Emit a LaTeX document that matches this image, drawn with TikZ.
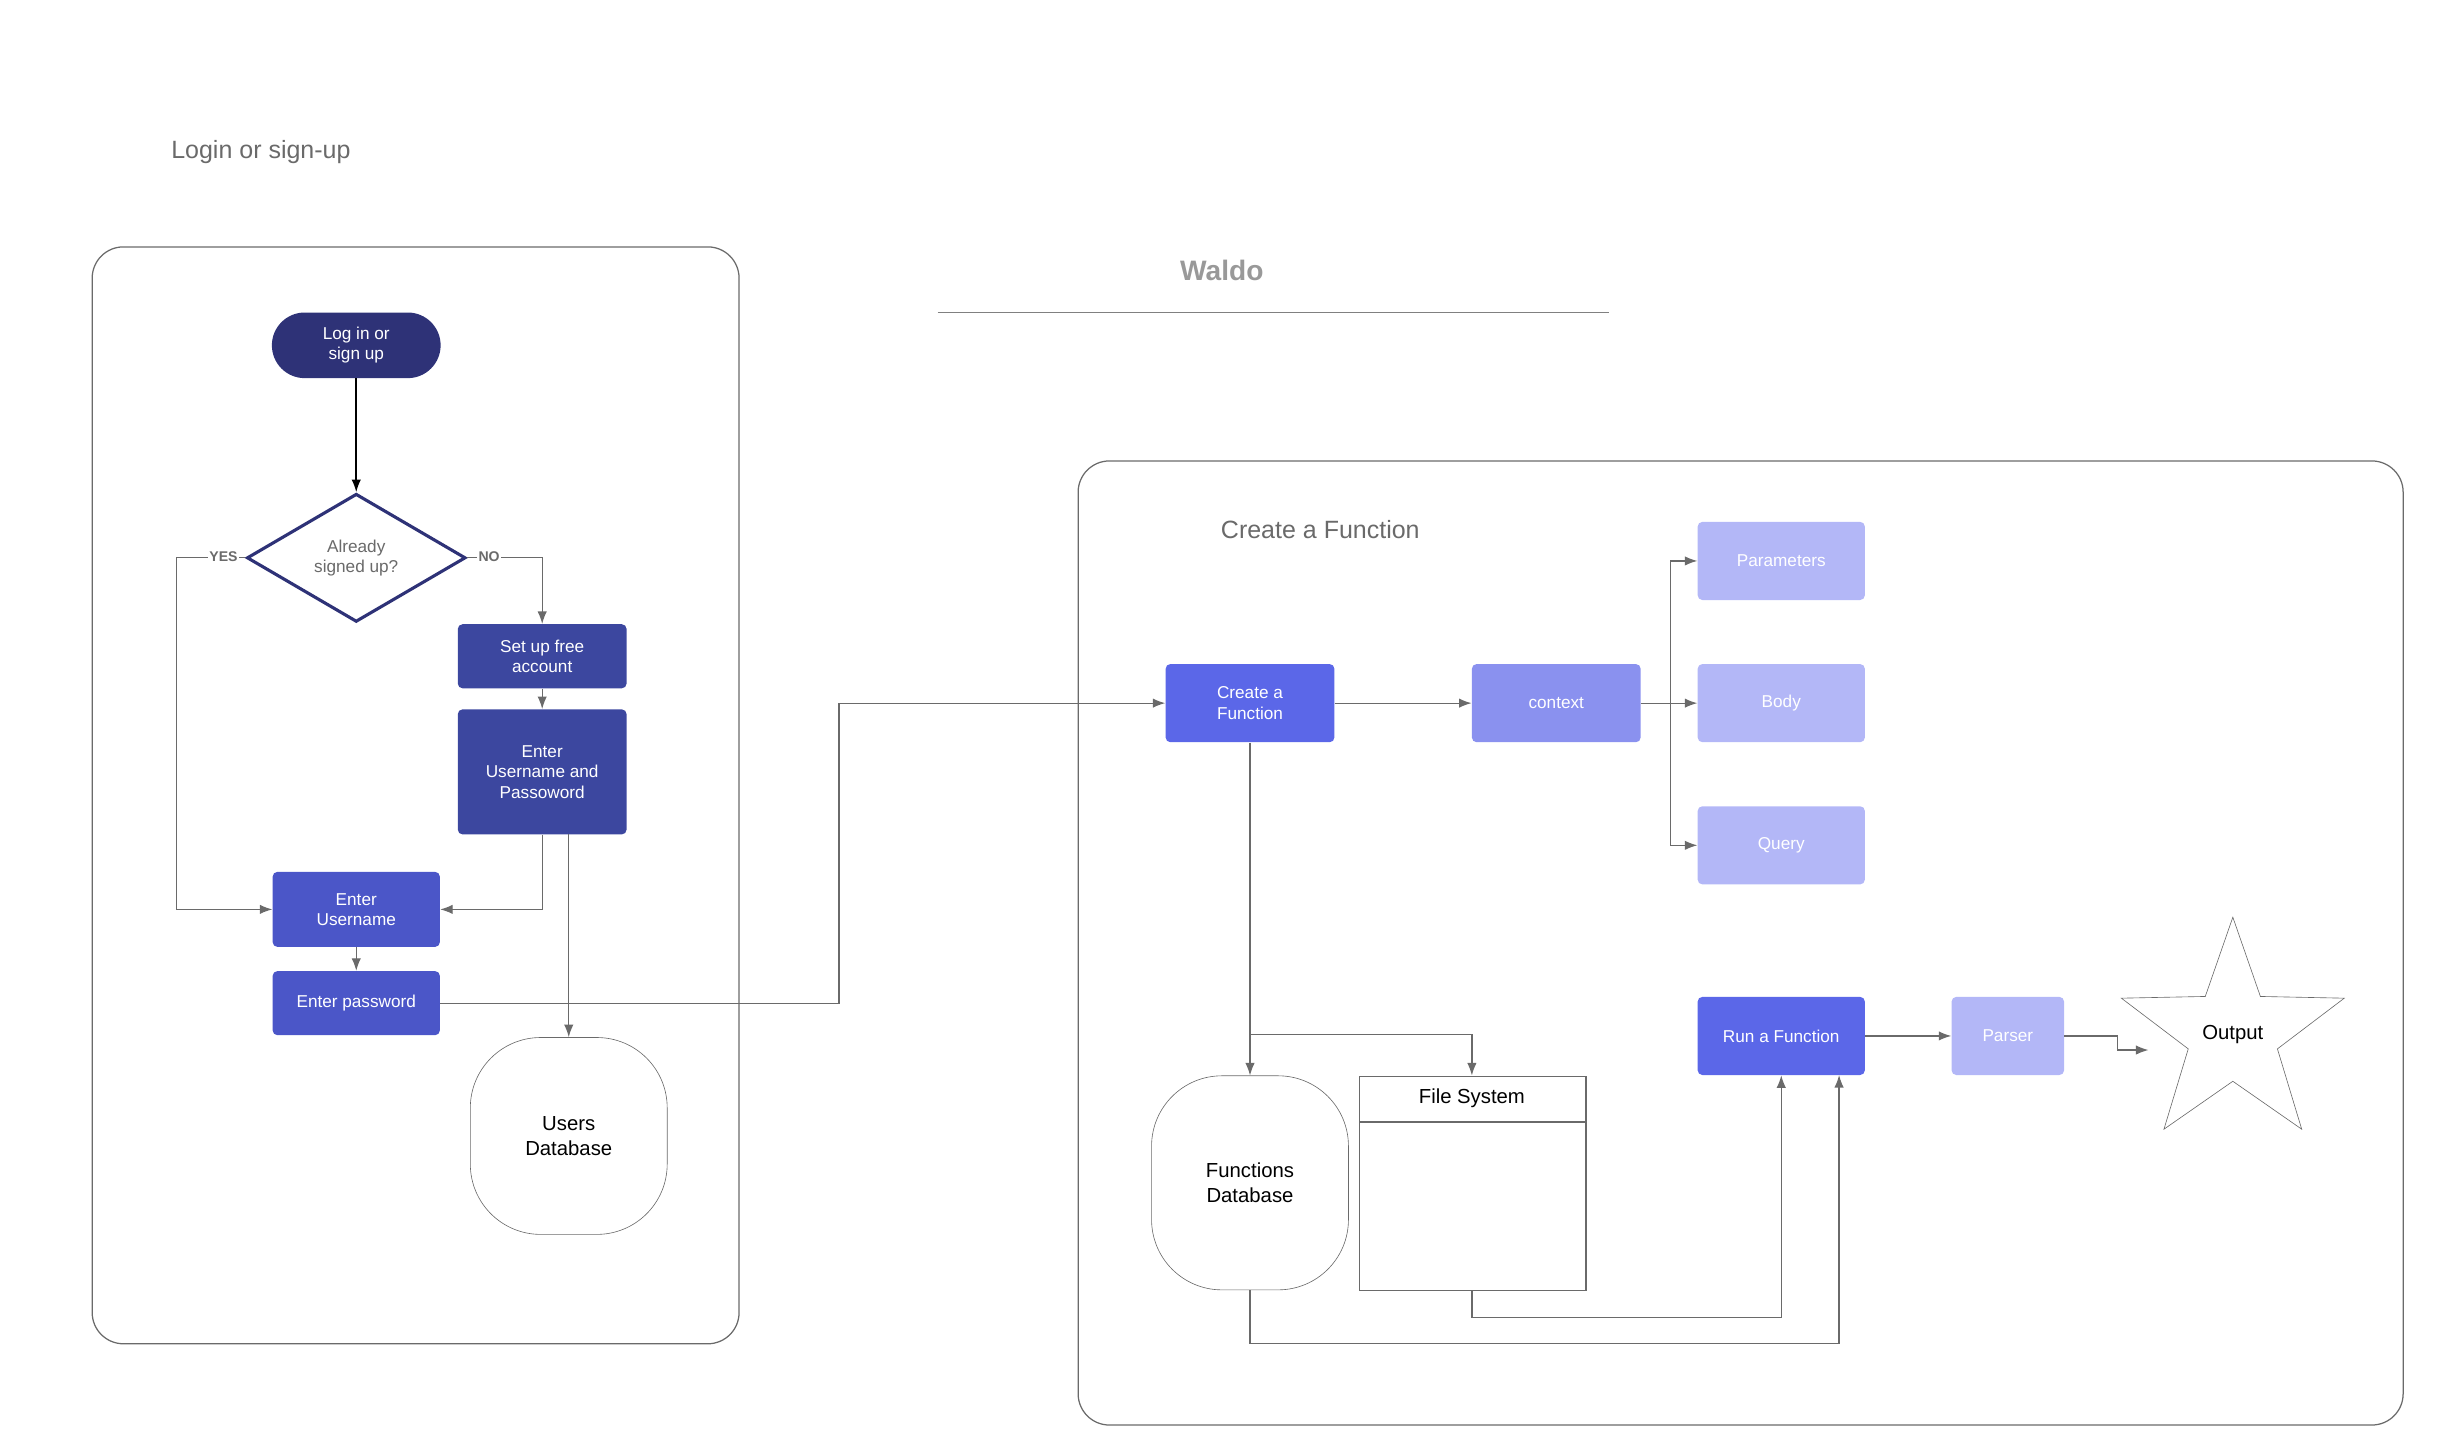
\documentclass[tikz,border=0pt]{standalone}
\usepackage{fontspec}
\setmainfont{Liberation Sans}
\usetikzlibrary{shapes.geometric,arrows.meta}
\definecolor{navy}{HTML}{2E3277}
\definecolor{dkb}{HTML}{3C479F}
\definecolor{mdb}{HTML}{4B56C8}
\definecolor{brb}{HTML}{5B67E8}
\definecolor{ctx}{HTML}{8A91EF}
\definecolor{lt}{HTML}{B3B7F7}
\definecolor{ln}{HTML}{6A6A6A}
\begin{document}
\begin{tikzpicture}[x=1pt,y=-1pt,
 box/.style={rectangle,rounded corners=3pt,text=white,align=center,font=\fontsize{11}{13}\selectfont,inner sep=2pt},
 arr/.style={draw=ln,line width=0.8pt,-{Latex[length=8pt,width=6pt]}},
 ln/.style={draw=ln,line width=0.8pt},
 lbl/.style={font=\fontsize{16}{18}\selectfont,text=ln}]
\useasboundingbox (0,0) rectangle (1568,921.6);
\node[lbl] (t1) at (167,97) {Login or sign-up};
\draw[ln,rounded corners=20pt] (59,158) rectangle (473,860);
\node[font=\bfseries\fontsize{18}{20}\selectfont,text=gray!80] (waldo) at (782,173) {Waldo};
\draw[ln,gray] (600,200) -- (1030,200);
\draw[ln,rounded corners=20pt] (690,295) rectangle (1538,912);
\node[lbl] (t2) at (845,339) {Create a Function};

\node[box,fill=navy,rounded corners=21pt,minimum width=108pt,minimum height=42pt] (start) at (228,221) {Log in or\\sign up};
\node[diamond,draw=navy,line width=2pt,fill=white,minimum width=140pt,minimum height=82pt,inner sep=0pt,align=center,font=\fontsize{11}{13}\selectfont,text=ln] (dia) at (228,357) {Already\\signed up?};
\node[box,fill=dkb,minimum width=108pt,minimum height=41pt] (setup) at (347,420) {Set up free\\account};
\node[box,fill=dkb,minimum width=108pt,minimum height=80pt] (eup) at (347,494) {Enter\\Username and\\Passoword};
\node[box,fill=mdb,minimum width=107pt,minimum height=48pt] (eu) at (228,582) {Enter\\Username};
\node[box,fill=mdb,minimum width=107pt,minimum height=41pt] (ep) at (228,642) {Enter password};
\node[draw=ln,rounded corners=45pt,minimum width=126pt,minimum height=126pt,align=center,font=\fontsize{13}{16}\selectfont] (udb) at (364,727) {Users\\Database};

\draw[line width=1pt,-{Latex[length=8pt,width=6pt]}] (start) -- (dia);
\draw[arr] (dia.west) -- (113,357) |- (eu.west);
\node[fill=white,inner sep=1pt,font=\bfseries\fontsize{9}{10}\selectfont,text=ln] (yes) at (143,356) {YES};
\draw[arr] (dia.east) -- (347,357) -- (setup.north);
\node[fill=white,inner sep=1pt,font=\bfseries\fontsize{9}{10}\selectfont,text=ln] (no) at (313,356) {NO};
\draw[arr] (setup) -- (eup);
\draw[arr] (eup.south) |- (eu.east);
\draw[arr] (364,534) -- (udb.north);
\draw[arr] (eu) -- (ep);

\node[box,fill=brb,minimum width=108pt,minimum height=50pt] (cf) at (800,450) {Create a\\Function};
\node[box,fill=ctx,minimum width=108pt,minimum height=50pt] (ctx) at (996,450) {context};
\node[box,fill=lt,minimum width=107pt,minimum height=50pt] (par) at (1140,359) {Parameters};
\node[box,fill=lt,minimum width=107pt,minimum height=50pt] (body) at (1140,450) {Body};
\node[box,fill=lt,minimum width=107pt,minimum height=50pt] (q) at (1140,541) {Query};
\draw[arr] (ep.east) -- (537,642) |- (cf.west);
\draw[arr] (cf) -- (ctx);
\draw[arr] (ctx.east) -- (body.west);
\draw[arr] (1069,450) |- (par.west);
\draw[arr] (1069,450) |- (q.west);

\node[draw=ln,rounded corners=45pt,minimum width=126pt,minimum height=137pt,align=center,font=\fontsize{13}{16}\selectfont] (fdb) at (800,757) {Functions\\Database};
\draw[ln] (870,689) rectangle (1015,826);
\draw[ln] (870,718) -- (1015,718);
\node[font=\fontsize{13}{16}\selectfont,minimum width=145pt,minimum height=29pt] (fs) at (942,703) {File System};
\draw[arr] (cf.south) -- (fdb.north);
\draw[arr] (800,662) -| (fs.north);

\node[box,fill=brb,minimum width=107pt,minimum height=50pt] (run) at (1140,663) {Run a Function};
\node[box,fill=lt,minimum width=72pt,minimum height=50pt] (parser) at (1285,663) {Parser};
\node[star,star points=5,star point ratio=2.5,draw=ln,minimum size=150pt,inner sep=0pt,font=\fontsize{13}{16}\selectfont] (out) at (1429,662) {Output};
\draw[arr] (run) -- (parser);
\draw[arr] (parser.east) -- (1355,663) |- (1375,672);
\draw[arr] (942,826) -- (942,843) -| (run.south);
\draw[arr] (fdb.south) -- (800,860) -| (1177,688);
\end{tikzpicture}
\end{document}
